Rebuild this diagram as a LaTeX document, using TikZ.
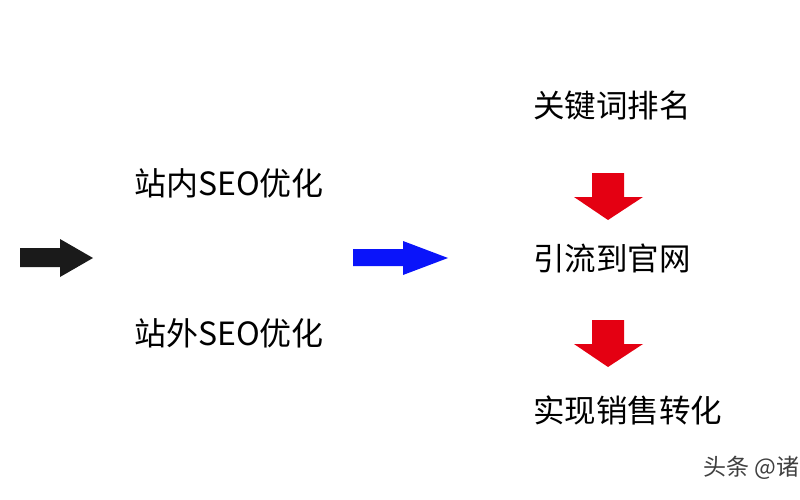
\documentclass[tikz,border=0pt]{standalone}
\usepackage{fontspec}
\setmainfont{Noto Sans CJK SC}
\definecolor{arrblack}{RGB}{26,26,26}
\definecolor{arrblue}{RGB}{10,20,250}
\definecolor{arrred}{RGB}{228,0,18}
\begin{document}
\begin{tikzpicture}[x=1pt,y=-1pt,
  lbl/.style={anchor=west,inner sep=0pt,font=\fontsize{31.5}{31.5}\selectfont},
  lbll/.style={anchor=west,inner sep=0pt,font=\fontsize{32}{32}\selectfont},
  wm/.style={anchor=west,inner sep=0pt,font=\fontsize{23}{23}\selectfont,text=black!75}]
\useasboundingbox (0,0) rectangle (800,500);
\clip (0,0) rectangle (800,500);
% black arrow
\fill[arrblack] (20,248) -- (60,248) -- (60,239) -- (93,258) -- (60,277) -- (60,267) -- (20,267) -- cycle;
% blue arrow
\fill[arrblue] (353,249) -- (403,249) -- (403,241) -- (448,258) -- (403,275) -- (403,266) -- (353,266) -- cycle;
% red arrows
\foreach \dy in {0,147}{
\fill[arrred] (592,173+\dy) -- (624,173+\dy) -- (624,197+\dy) -- (643,197+\dy) -- (608,220+\dy) -- (574,197+\dy) -- (592,197+\dy) -- cycle;
}
\node[lbll] (in) at (134,183) {站内SEO优化};
\node[lbll] (out) at (134,333) {站外SEO优化};
\node[lbl] (kw) at (533,106) {关键词排名};
\node[lbl] (yl) at (533,258) {引流到官网};
\node[lbl] (sx) at (533,410) {实现销售转化};
\node[wm] (wm1) at (703,468) {头条 @诸};
\end{tikzpicture}
\end{document}
